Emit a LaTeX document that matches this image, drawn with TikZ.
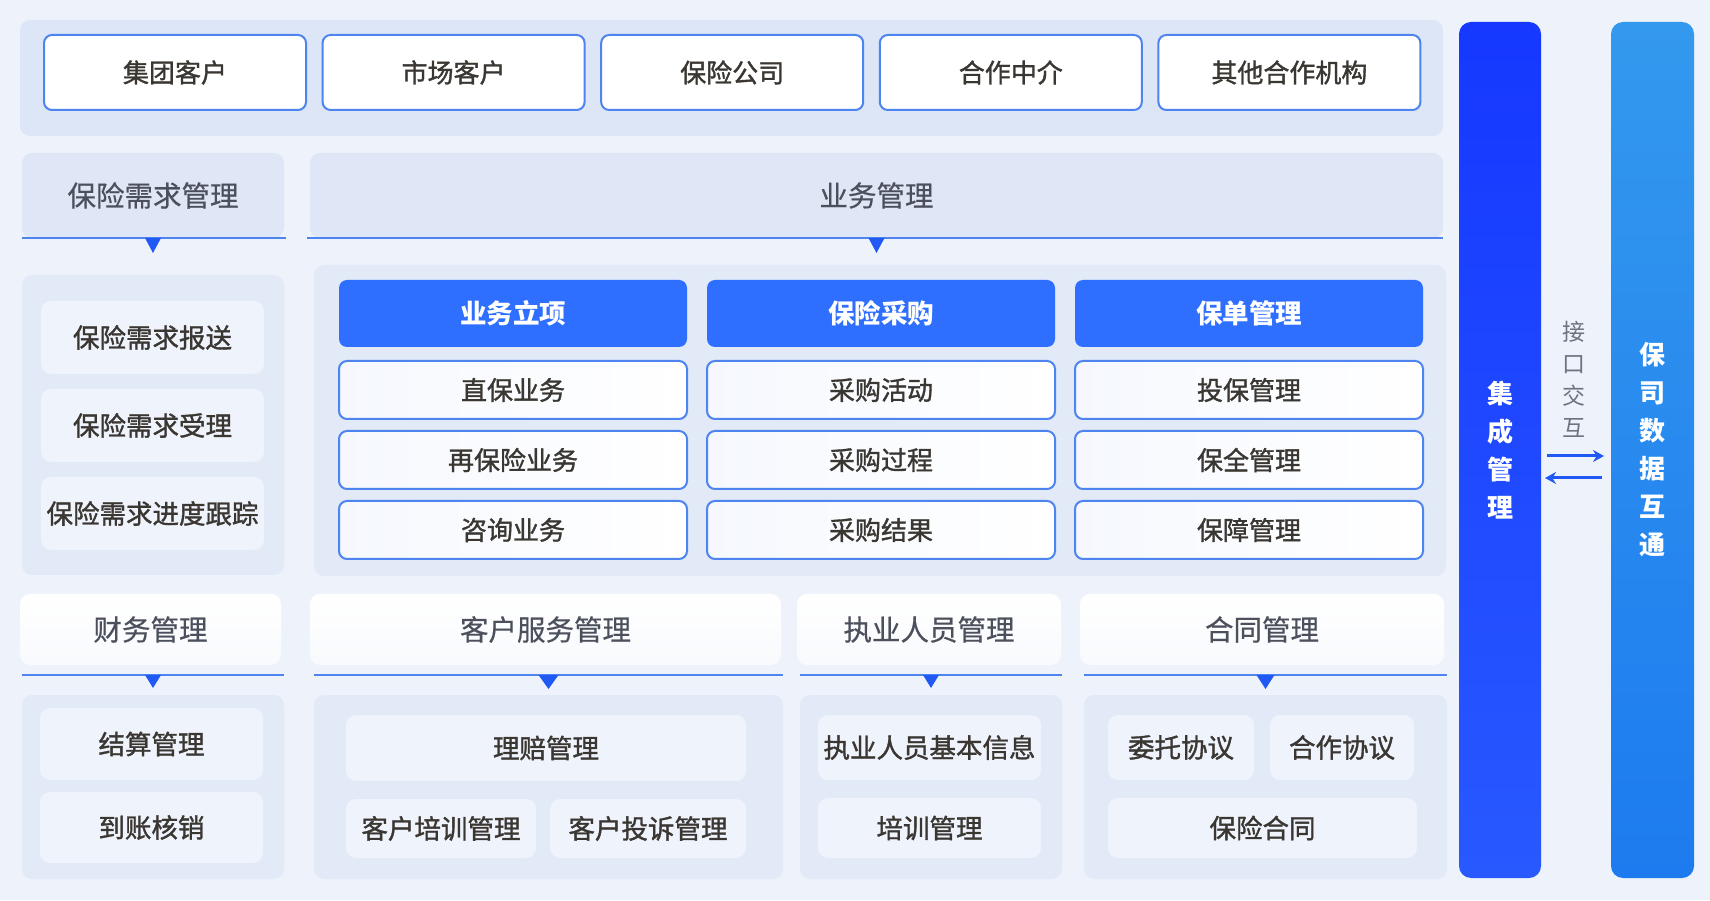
\documentclass[tikz,border=0pt]{standalone}
\usepackage{fontspec}
\setmainfont{Noto Sans CJK SC}
\newfontfamily\medfont{Noto Sans CJK SC}[FakeBold=1.3]
\newfontfamily\lightmed{Noto Sans CJK SC}[FakeBold=0.5]
\usetikzlibrary{positioning,arrows.meta}

\definecolor{bgcol}{HTML}{EEF2FA}
\definecolor{toppanel}{HTML}{DDE6F6}
\definecolor{headbg}{HTML}{DFE6F5}
\definecolor{panelbg}{HTML}{E2E9F7}
\definecolor{itembg}{HTML}{EFF3FB}
\definecolor{lineblue}{HTML}{4D84F0}
\definecolor{hdblue}{HTML}{2F6FFF}
\definecolor{tricol}{HTML}{2159F5}
\definecolor{txtcol}{HTML}{3A3632}
\definecolor{headtxt}{HTML}{4B505C}
\definecolor{jctop}{HTML}{1638FF}
\definecolor{jcbot}{HTML}{2859FF}
\definecolor{bstop}{HTML}{3399EE}
\definecolor{bsbot}{HTML}{1D7BEF}

\begin{document}
\begin{tikzpicture}[x=1pt, y=1pt, node distance=16pt,
    every node/.style = {inner sep=0pt, outer sep=0pt},
    panel/.style = {fill=panelbg, rounded corners=10pt, anchor=north west},
    topbox/.style = {draw=lineblue, line width=2pt, fill=white, rounded corners=8pt,
        minimum width=262pt, minimum height=75pt, text=txtcol,
        font={\medfont\fontsize{26}{28}\selectfont}},
    headg/.style = {fill=headbg, rounded corners=10pt, anchor=north west, text=headtxt,
        font={\lightmed\fontsize{28.5}{30}\selectfont}},
    headw/.style = {top color=white, bottom color=white!60!bgcol, rounded corners=10pt,
        anchor=north west, minimum height=71pt, text=headtxt,
        font={\lightmed\fontsize{28.5}{30}\selectfont}},
    item/.style = {fill=itembg, rounded corners=10pt, text=txtcol,
        font={\medfont\fontsize{26.5}{28}\selectfont}},
    bluehd/.style = {fill=hdblue, rounded corners=8pt, minimum width=348pt,
        minimum height=67pt, text=white, font={\bfseries\fontsize{26.5}{28}\selectfont}},
    rowbox/.style = {draw=lineblue, line width=2pt, left color=itembg!80!lineblue!20,
        right color=white, rounded corners=8pt, minimum width=348pt,
        minimum height=58pt, text=txtcol, font={\medfont\fontsize{26}{28}\selectfont}},
    bar/.style = {rounded corners=12pt, anchor=north west, minimum height=856pt,
        align=center, text=white, font={\bfseries\fontsize{26}{38}\selectfont}},
    hline/.style = {draw=lineblue, line width=1.5pt},
    tri/.style = {fill=tricol},
    flow/.style = {draw=tricol, line width=3pt, -{Stealth[length=11pt, width=12pt]}}]

    \fill[bgcol] (0,0) rectangle (1710,900);

    % clienti
    \node[panel, fill=toppanel, minimum width=1423pt, minimum height=116pt] (tp) at (20,880) {};
    \node[topbox] (t1) at (175,827.5) {集团客户};
    \node[topbox, right=16.6pt of t1] (t2) {市场客户};
    \node[topbox, right=16.6pt of t2] (t3) {保险公司};
    \node[topbox, right=16.6pt of t3] (t4) {合作中介};
    \node[topbox, right=16.6pt of t4] (t5) {其他合作机构};

    % needs and business
    \node[headg, minimum width=262pt, minimum height=85pt] (hq) at (22,747) {保险需求管理};
    \node[headg, minimum width=1133pt, minimum height=85pt] (hy) at (310,747) {业务管理};
    \draw[hline] (hq.south west) -- ([xshift=2pt]hq.south east);
    \draw[hline] ([xshift=-3pt]hy.south west) -- (hy.south east);
    \fill[tri] (hq.south) ++(-8,0) -- ++(16,0) -- ++(-8,-15) -- cycle;
    \fill[tri] (hy.south) ++(-8,0) -- ++(16,0) -- ++(-8,-15) -- cycle;

    \node[panel, minimum width=262pt, minimum height=300pt] (lq) at (22,625) {};
    \node[item, minimum width=223pt, minimum height=73pt, anchor=north west] (q1) at (41,599) {保险需求报送};
    \node[item, minimum width=223pt, minimum height=73pt, below=15pt of q1] (q2) {保险需求受理};
    \node[item, minimum width=223pt, minimum height=73pt, below=15pt of q2] (q3) {保险需求进度跟踪};

    \node[panel, minimum width=1132pt, minimum height=311pt] (yp) at (314,635) {};
    \node[bluehd, anchor=north west] (y1) at (339,620) {业务立项};
    \node[bluehd, right=20pt of y1] (y2) {保险采购};
    \node[bluehd, right=20pt of y2] (y3) {保单管理};
    \node[rowbox, below=14pt of y1] (y11) {直保业务};
    \node[rowbox, below=12pt of y11] (y12) {再保险业务};
    \node[rowbox, below=12pt of y12] (y13) {咨询业务};
    \node[rowbox, below=14pt of y2] (y21) {采购活动};
    \node[rowbox, below=12pt of y21] (y22) {采购过程};
    \node[rowbox, below=12pt of y22] (y23) {采购结果};
    \node[rowbox, below=14pt of y3] (y31) {投保管理};
    \node[rowbox, below=12pt of y31] (y32) {保全管理};
    \node[rowbox, below=12pt of y32] (y33) {保障管理};

    % lower modules
    \node[headw, minimum width=261pt] (hc) at (20,306) {财务管理};
    \node[headw, minimum width=471pt] (hk) at (310,306) {客户服务管理};
    \node[headw, minimum width=264pt] (hz) at (797,306) {执业人员管理};
    \node[headw, minimum width=364pt] (hh) at (1080,306) {合同管理};

    \node[panel, minimum width=262pt, minimum height=184pt] (pc) at (22,205) {};
    \node[panel, minimum width=469pt, minimum height=184pt] (pk) at (314,205) {};
    \node[panel, minimum width=262pt, minimum height=184pt] (pz) at (800,205) {};
    \node[panel, minimum width=363pt, minimum height=184pt] (ph) at (1084,205) {};

    \draw[hline] ([yshift=20pt]pc.north west) -- ([yshift=20pt]pc.north east);
    \draw[hline] ([yshift=20pt]pk.north west) -- ([yshift=20pt]pk.north east);
    \draw[hline] ([yshift=20pt]pz.north west) -- ([yshift=20pt]pz.north east);
    \draw[hline] ([yshift=20pt]ph.north west) -- ([yshift=20pt]ph.north east);
    \fill[tri] ([yshift=20pt]pc.north) ++(-8,0) -- ++(16,0) -- ++(-8,-13) -- cycle;
    \fill[tri] ([yshift=20pt]pk.north) ++(-10,0) -- ++(20,0) -- ++(-10,-14) -- cycle;
    \fill[tri] ([yshift=20pt]pz.north) ++(-8,0) -- ++(16,0) -- ++(-8,-13) -- cycle;
    \fill[tri] ([yshift=20pt]ph.north) ++(-9,0) -- ++(18,0) -- ++(-9,-14) -- cycle;

    \node[item, minimum width=223pt, minimum height=72pt, anchor=north west] (c1) at (40,192) {结算管理};
    \node[item, minimum width=223pt, minimum height=71pt, below=12pt of c1] (c2) {到账核销};

    \node[item, minimum width=400pt, minimum height=66pt, anchor=north west] (kl) at (346,185) {理赔管理};
    \node[item, minimum width=190pt, minimum height=59pt, below right=18pt and 0pt of kl.south west] (kt) {客户培训管理};
    \node[item, minimum width=196pt, minimum height=59pt, below left=18pt and 0pt of kl.south east] (ks) {客户投诉管理};

    \node[item, minimum width=223pt, minimum height=65pt, anchor=north west] (zj) at (818,185) {执业人员基本信息};
    \node[item, minimum width=223pt, minimum height=60pt, below=18pt of zj] (zx) {培训管理};

    \node[item, minimum width=146pt, minimum height=65pt, anchor=north west] (hw) at (1108,185) {委托协议};
    \node[item, minimum width=144pt, minimum height=65pt, right=16pt of hw] (hx) {合作协议};
    \node[item, minimum width=309pt, minimum height=60pt, below right=18pt and 0pt of hw.south west] (hb) {保险合同};

    % side bars
    \node[bar, top color=jctop, bottom color=jcbot, minimum width=82pt] (jc) at (1459,878) {集\\成\\管\\理};
    \node[bar, top color=bstop, bottom color=bsbot, minimum width=83pt] (bs) at (1611,878) {保\\司\\数\\据\\互\\通};
    \node[align=center, text=headtxt!80, font={\fontsize{23}{32}\selectfont}] (jk) at (1574,521) {接\\口\\交\\互};

    \draw[flow, shorten <=6pt, shorten >=7pt] ([yshift=-6pt]jc.east) -- ([yshift=-6pt]bs.west);
    \draw[flow, shorten <=9pt, shorten >=4pt] ([yshift=-28pt]bs.west) -- ([yshift=-28pt]jc.east);
\end{tikzpicture}
\end{document}
